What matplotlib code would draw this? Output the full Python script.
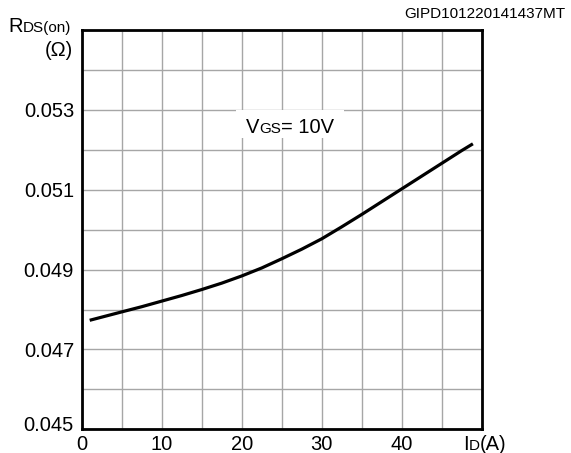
import numpy as np
import matplotlib
matplotlib.use('Agg')
import matplotlib.pyplot as plt
from matplotlib.patches import Rectangle
from matplotlib.transforms import IdentityTransform, offset_copy

plt.rcParams['font.family'] = ['Liberation Sans', 'DejaVu Sans']

# ---- data ----
id_a = [1.0, 5.0, 7.5, 10.0, 12.5, 15.0, 17.5, 20.0, 22.5, 25.0, 27.5, 30.0,
        32.5, 35.0, 37.5, 40.0, 42.5, 45.0, 47.5, 48.9]
rds_on = [0.04773, 0.04794, 0.04807, 0.04821, 0.04835, 0.04850, 0.04866,
          0.04884, 0.04904, 0.04927, 0.04951, 0.04977, 0.05007, 0.05038,
          0.05070, 0.05102, 0.05134, 0.05166, 0.05198, 0.05215]
x_ticks = [0, 10, 20, 30, 40]
x_tick_labels = ['0', '10', '20', '30', '40']
y_ticks = [0.045, 0.047, 0.049, 0.051, 0.053]
y_tick_labels = ['0.045', '0.047', '0.049', '0.051', '0.053']
code_label = 'GIPD101220141437MT'

W, H = 571, 453
fig = plt.figure(figsize=(W / 100, H / 100), dpi=100)
ax = fig.add_axes([81.7 / W, 1 - 429.3 / H, 400 / W, 399.3 / H])
ax.set_xlim(0, 50)
ax.set_ylim(0.045, 0.055)

ax.set_xticks(x_ticks)
ax.set_xticklabels(x_tick_labels)
ax.set_xticks(np.arange(0, 51, 5), minor=True)
ax.set_yticks(y_ticks)
# the bottom label is drawn separately, slightly raised
ax.set_yticklabels([''] + y_tick_labels[1:])
ax.set_yticks(np.arange(0.045, 0.0551, 0.001), minor=True)
ax.grid(True, which='both', color='#a6a6a6', linewidth=1.0)
ax.set_axisbelow(True)
ax.tick_params(which='both', length=0)
ax.tick_params(axis='x', pad=4, labelsize=14.5)
ax.tick_params(axis='y', pad=5.5, labelsize=14.5)
for s in ax.spines.values():
    s.set_linewidth(2.0)
    s.set_color('black')

ax.text(0, y_ticks[0], y_tick_labels[0], fontsize=14.5, ha='right',
        va='center_baseline',
        transform=offset_copy(ax.get_yaxis_transform(), fig=fig,
                              x=-7.7, y=5.5, units='dots'))

ax.plot(id_a, rds_on, color='black', linewidth=2.3, zorder=3,
        solid_capstyle='butt', solid_joinstyle='round')

fig.canvas.draw()
renderer = fig.canvas.get_renderer()


def rich(target, x, y, parts, ha='left', zorder=5):
    """x, y in display pixels (y from bottom); baseline aligned pieces."""
    arts = []
    widths = []
    for s, size in parts:
        t = target.text(0, 0, s, fontsize=size, transform=IdentityTransform(),
                        ha='left', va='baseline', zorder=zorder)
        arts.append(t)
        widths.append(t.get_window_extent(renderer).width)
    total = sum(widths)
    if ha == 'center':
        x0 = x - total / 2
    elif ha == 'right':
        x0 = x - total
    else:
        x0 = x
    cx = x0
    for t, w in zip(arts, widths):
        t.set_position((cx, y))
        cx += w
    return x0, total


# y axis label
rich(fig, 8, H - 32, [('R', 14.5), ('DS(on)', 11)])
rich(fig, 73, H - 56.5, [('(Ω)', 14.5)], ha='right')

# x axis label at x = 50
rich(fig, 485, H - 450, [('I', 14.5), ('D', 11), ('(A)', 14.5)], ha='center')

# code label
fig.text(565 / W, 1 - 18.5 / H, code_label, fontsize=11, ha='right',
         va='baseline')

# VGS annotation with white box
cx, by = ax.transData.transform((26.0, 0.052415))
x0, tw = rich(ax, cx, by, [('V', 14.5), ('GS', 11), ('= 10V', 14.5)],
              ha='center', zorder=5)
ax.add_patch(Rectangle((x0 - 10, by - 4.5), tw + 20, 27.5,
                       transform=IdentityTransform(), facecolor='white',
                       edgecolor='none', zorder=2.5))

fig.savefig('out.png', dpi=100)
